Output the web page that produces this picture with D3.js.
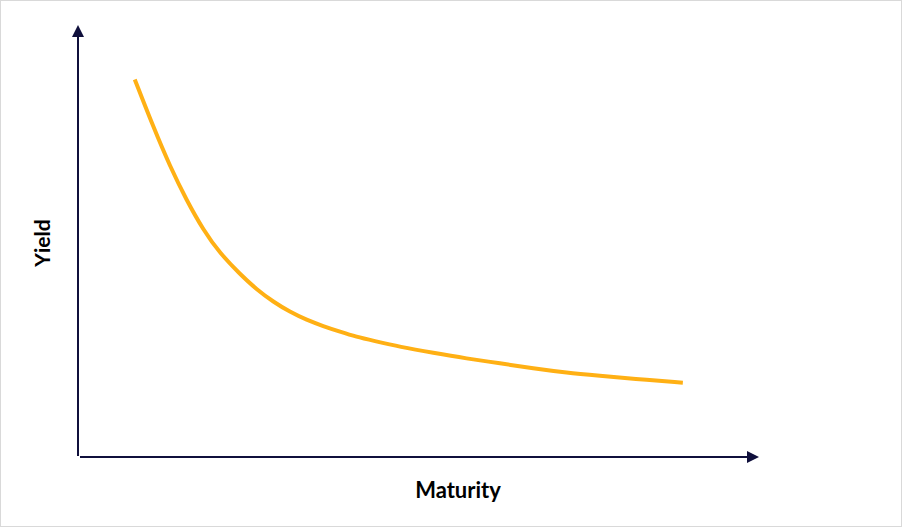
<!DOCTYPE html>
<html>
<head>
<meta charset="utf-8">
<script src="https://cdn.jsdelivr.net/npm/d3@7"></script>
<style>
  html, body { margin: 0; padding: 0; background: #fff; }
  svg { display: block; }
</style>
</head>
<body>
<script>
// Data (arbitrary units)
const maturity = [0.82, 1.09, 1.34, 1.58, 1.83, 2.07, 2.37, 2.61, 2.86, 3.10, 3.35, 3.59, 3.84, 4.08, 4.33, 4.72, 5.21, 5.70, 6.19, 6.68, 7.17, 7.66, 8.15, 8.88];
const yieldVals = [8.74, 7.65, 6.72, 5.95, 5.25, 4.72, 4.23, 3.88, 3.59, 3.36, 3.17, 3.03, 2.90, 2.78, 2.69, 2.55, 2.41, 2.28, 2.17, 2.05, 1.95, 1.88, 1.81, 1.72];
const xLabel = "Maturity";
const yLabel = "Yield";

const W = 902, H = 527;
const svg = d3.select("body").append("svg").attr("width", W).attr("height", H);

// border
svg.append("rect").attr("x", 0.5).attr("y", 0.5).attr("width", W - 1).attr("height", H - 1)
  .attr("fill", "#fff").attr("stroke", "#d9d9d9").attr("stroke-width", 1);

const x = d3.scaleLinear().domain([0, 10]).range([79, 759]);
const y = d3.scaleLinear().domain([0, 10]).range([457, 25]);

const axisColor = "#10103c";

// Y axis
svg.append("line")
  .attr("x1", x(0) - 1).attr("x2", x(0) - 1)
  .attr("y1", y(0) - 1).attr("y2", y(10) + 10)
  .attr("stroke", axisColor).attr("stroke-width", 2);
svg.append("path")
  .attr("d", `M${x(0) - 1},${y(10)} L${x(0) - 7},${y(10) + 12} L${x(0) + 5},${y(10) + 12} Z`)
  .attr("fill", axisColor);

// X axis
svg.append("line")
  .attr("x1", x(0) + 1).attr("x2", x(10) - 10)
  .attr("y1", y(0)).attr("y2", y(0))
  .attr("stroke", axisColor).attr("stroke-width", 2);
svg.append("path")
  .attr("d", `M${x(10)},${y(0)} L${x(10) - 12},${y(0) - 6} L${x(10) - 12},${y(0) + 6} Z`)
  .attr("fill", axisColor);

// Curve
const pts = maturity.map((m, i) => [m, yieldVals[i]]);
const line = d3.line().x(d => x(d[0])).y(d => y(d[1])).curve(d3.curveBasis);
svg.append("path").datum(pts)
  .attr("d", line)
  .attr("fill", "none")
  .attr("stroke", "#ffb014")
  .attr("stroke-width", 4);

// Labels
svg.append("text")
  .attr("x", 458).attr("y", 498)
  .attr("text-anchor", "middle")
  .attr("font-family", "Lato, 'Open Sans', sans-serif")
  .attr("font-weight", "bold")
  .attr("font-size", 22)
  .attr("fill", "#000")
  .text(xLabel);

svg.append("text")
  .attr("transform", "translate(50,243) rotate(-90)")
  .attr("text-anchor", "middle")
  .attr("font-family", "Lato, 'Open Sans', sans-serif")
  .attr("font-weight", "bold")
  .attr("font-size", 21)
  .attr("fill", "#000")
  .text(yLabel);
</script>
</body>
</html>
